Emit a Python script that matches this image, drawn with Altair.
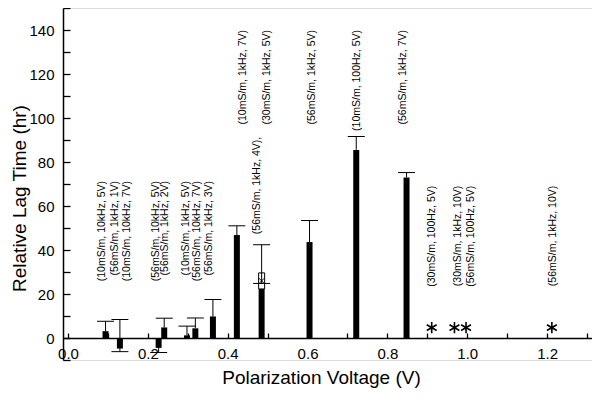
import altair as alt
import pandas as pd

# ---- data ----
volts = [0.094, 0.130, 0.227, 0.241, 0.298, 0.319, 0.363, 0.423, 0.485, 0.605, 0.722, 0.848]
lag = [3.1, -4.8, -4.5, 4.8, 1.2, 4.4, 9.8, 46.8, 29.6, 43.6, 85.5, 73.0]
err_upper = [7.6, 8.4, None, 9.0, 5.4, 9.1, 17.5, 51.0, 42.4, 53.4, 91.6, 75.2]
err_lower = [None, -6.2, -6.6, None, None, None, None, None, 24.8, None, None, None]
open_from = [None, None, None, None, None, None, None, None, 22.3, None, None, None]

star_volts = [0.911, 0.968, 0.997, 1.212]
star_lag = [4.7, 4.7, 4.7, 4.7]

label_text = [
    "(10mS/m, 10kHz, 5V)", "(56mS/m, 1kHz, 1V)", "(10mS/m, 10kHz, 7V)",
    "(56mS/m, 10kHz, 5V)", "(56mS/m, 1kHz, 2V)",
    "(10mS/m, 1kHz, 5V)", "(56mS/m, 10kHz, 7V)", "(56mS/m, 1kHz, 3V)",
    "(10mS/m, 1kHz, 7V)", "(56mS/m, 1kHz, 4V),", "(30mS/m, 1kHz, 5V)",
    "(56mS/m, 1kHz, 5V)", "(10mS/m, 100Hz, 5V)", "(56mS/m, 1kHz, 7V)",
    "(30mS/m, 100Hz, 5V)", "(30mS/m, 1kHz, 10V)", "(56mS/m, 100Hz, 5V)",
    "(56mS/m, 1kHz, 10V)",
]
label_volt = [0.085, 0.117, 0.149,
              0.220, 0.244,
              0.295, 0.322, 0.354,
              0.439, 0.473, 0.498,
              0.610, 0.724, 0.839,
              0.912, 0.976, 1.010,
              1.215]
label_top = [71.4, 71.4, 71.4,
             71.4, 71.4,
             71.4, 71.4, 71.4,
             140.0, 91.5, 140.0,
             140.0, 140.0, 140.0,
             69.2, 69.2, 69.2,
             69.2]

x_tick_values = [0.0, 0.1, 0.2, 0.3, 0.4, 0.5, 0.6, 0.7, 0.8, 0.9, 1.0, 1.1, 1.2, 1.3]
y_tick_values = [-10, 0, 10, 20, 30, 40, 50, 60, 70, 80, 90, 100, 110, 120, 130, 140, 150]

# ---- tables ----
bars = pd.DataFrame({"volt": volts, "lag": lag, "err_hi": err_upper,
                     "err_lo": err_lower, "open_from": open_from})
stars = pd.DataFrame({"volt": star_volts, "lag": star_lag})
labels = pd.DataFrame({"volt": label_volt, "top": label_top, "text": label_text})

W, H = 529, 352
FONT = "Liberation Sans"
Y_MIN, Y_MAX = -10, 150

xscale = alt.Scale(domain=[0, 1.3], nice=False, zero=False)
yscale = alt.Scale(domain=[Y_MIN, Y_MAX], nice=False, zero=False)

xaxis = alt.Axis(
    title="Polarization Voltage (V)", values=x_tick_values,
    labelExpr="round(datum.value * 10) % 2 == 0 ? format(datum.value, '.1f') : ''",
    grid=False, ticks=True, tickSize=alt.ExprRef("-5"), tickColor="black",
    tickWidth=1.3, labelPadding=13, labelFontSize=15,
    labelFlush=False, labelOverlap=False, labelColor="black",
    titleFontSize=19, titleFontWeight="normal", titleColor="black",
    titleX=258, titleY=30, titleBaseline="top",
    domainColor="black", domainWidth=1.5,
    offset=-H * (0 - Y_MIN) / (Y_MAX - Y_MIN),
)
yaxis = alt.Axis(
    title="Relative Lag Time (hr)", values=y_tick_values,
    labelExpr="datum.value >= 0 && datum.value % 20 == 0 && datum.value <= 140 ? datum.label : ''",
    grid=False, ticks=True, tickSize=alt.ExprRef("-7"), tickColor="black",
    tickWidth=1.3, labelPadding=16, labelFontSize=15, labelOverlap=False,
    labelColor="black", titleFontSize=19, titleFontWeight="normal",
    titleColor="black", titleX=-34, titleY=H / 2 + 14,
    titleAlign="center", titleBaseline="bottom", titleAngle=270,
    domainColor="black", domainWidth=1.5,
)


def X(field):
    return alt.X(field, type="quantitative", scale=xscale, axis=xaxis)


def Y(field):
    return alt.Y(field, type="quantitative", scale=yscale, axis=yaxis)


base = alt.Chart(bars).transform_calculate(
    zero="0",
    solid="isValid(datum.open_from) ? datum.open_from : datum.lag",
    mid="isValid(datum.open_from) ? (datum.open_from + datum.lag) / 2 : null",
)

solid_bars = base.mark_bar(color="black", width=6).encode(
    x=X("volt"), y=Y("solid"), y2=alt.Y2("zero:Q")
)
open_bars = base.transform_filter("isValid(datum.open_from)").mark_bar(
    color="white", stroke="black", strokeWidth=1, width=6
).encode(x=X("volt"), y=Y("open_from"), y2=alt.Y2("lag"))
open_cross = base.transform_filter("isValid(datum.open_from)").mark_point(
    shape="M-1,-1L1,1M-1,1L1,-1", size=30, filled=False, color="black",
    strokeWidth=1, opacity=1
).encode(x=X("volt"), y=Y("mid"))

err_hi_rule = base.transform_filter("isValid(datum.err_hi)").mark_rule(
    color="black", strokeWidth=1
).encode(x=X("volt"), y=Y("lag"), y2=alt.Y2("err_hi"))
err_lo_rule = base.transform_filter("isValid(datum.err_lo)").mark_rule(
    color="black", strokeWidth=1
).encode(x=X("volt"), y=Y("lag"), y2=alt.Y2("err_lo"))
err_hi_cap = base.transform_filter("isValid(datum.err_hi)").mark_tick(
    orient="horizontal", size=17, thickness=1, color="black", opacity=1
).encode(x=X("volt"), y=Y("err_hi"))
err_lo_cap = base.transform_filter("isValid(datum.err_lo)").mark_tick(
    orient="horizontal", size=17, thickness=1, color="black", opacity=1
).encode(x=X("volt"), y=Y("err_lo"))

asterisks = alt.Chart(stars).mark_point(
    shape="M0,-1L0,1M-0.866,-0.5L0.866,0.5M-0.866,0.5L0.866,-0.5",
    size=130, filled=False, color="black", strokeWidth=1.6, opacity=1
).encode(x=X("volt"), y=Y("lag"))

texts = alt.Chart(labels).mark_text(
    angle=270, align="right", baseline="middle", fontSize=10.5, font=FONT,
    color="black"
).encode(x=X("volt"), y=Y("top"), text="text:N")

chart = alt.layer(
    solid_bars, open_bars, err_hi_rule, err_lo_rule, err_hi_cap, err_lo_cap,
    open_cross, asterisks, texts
).properties(
    width=W, height=H,
    autosize=alt.AutoSizeParams(type="none"),
    padding={"left": 55, "top": 0, "right": 0, "bottom": 30},
).configure_view(stroke=None).configure_axis(
    labelFont=FONT, titleFont=FONT
).configure(background="white")

chart.save("out.html", embed_options={"renderer": "svg", "actions": False})
